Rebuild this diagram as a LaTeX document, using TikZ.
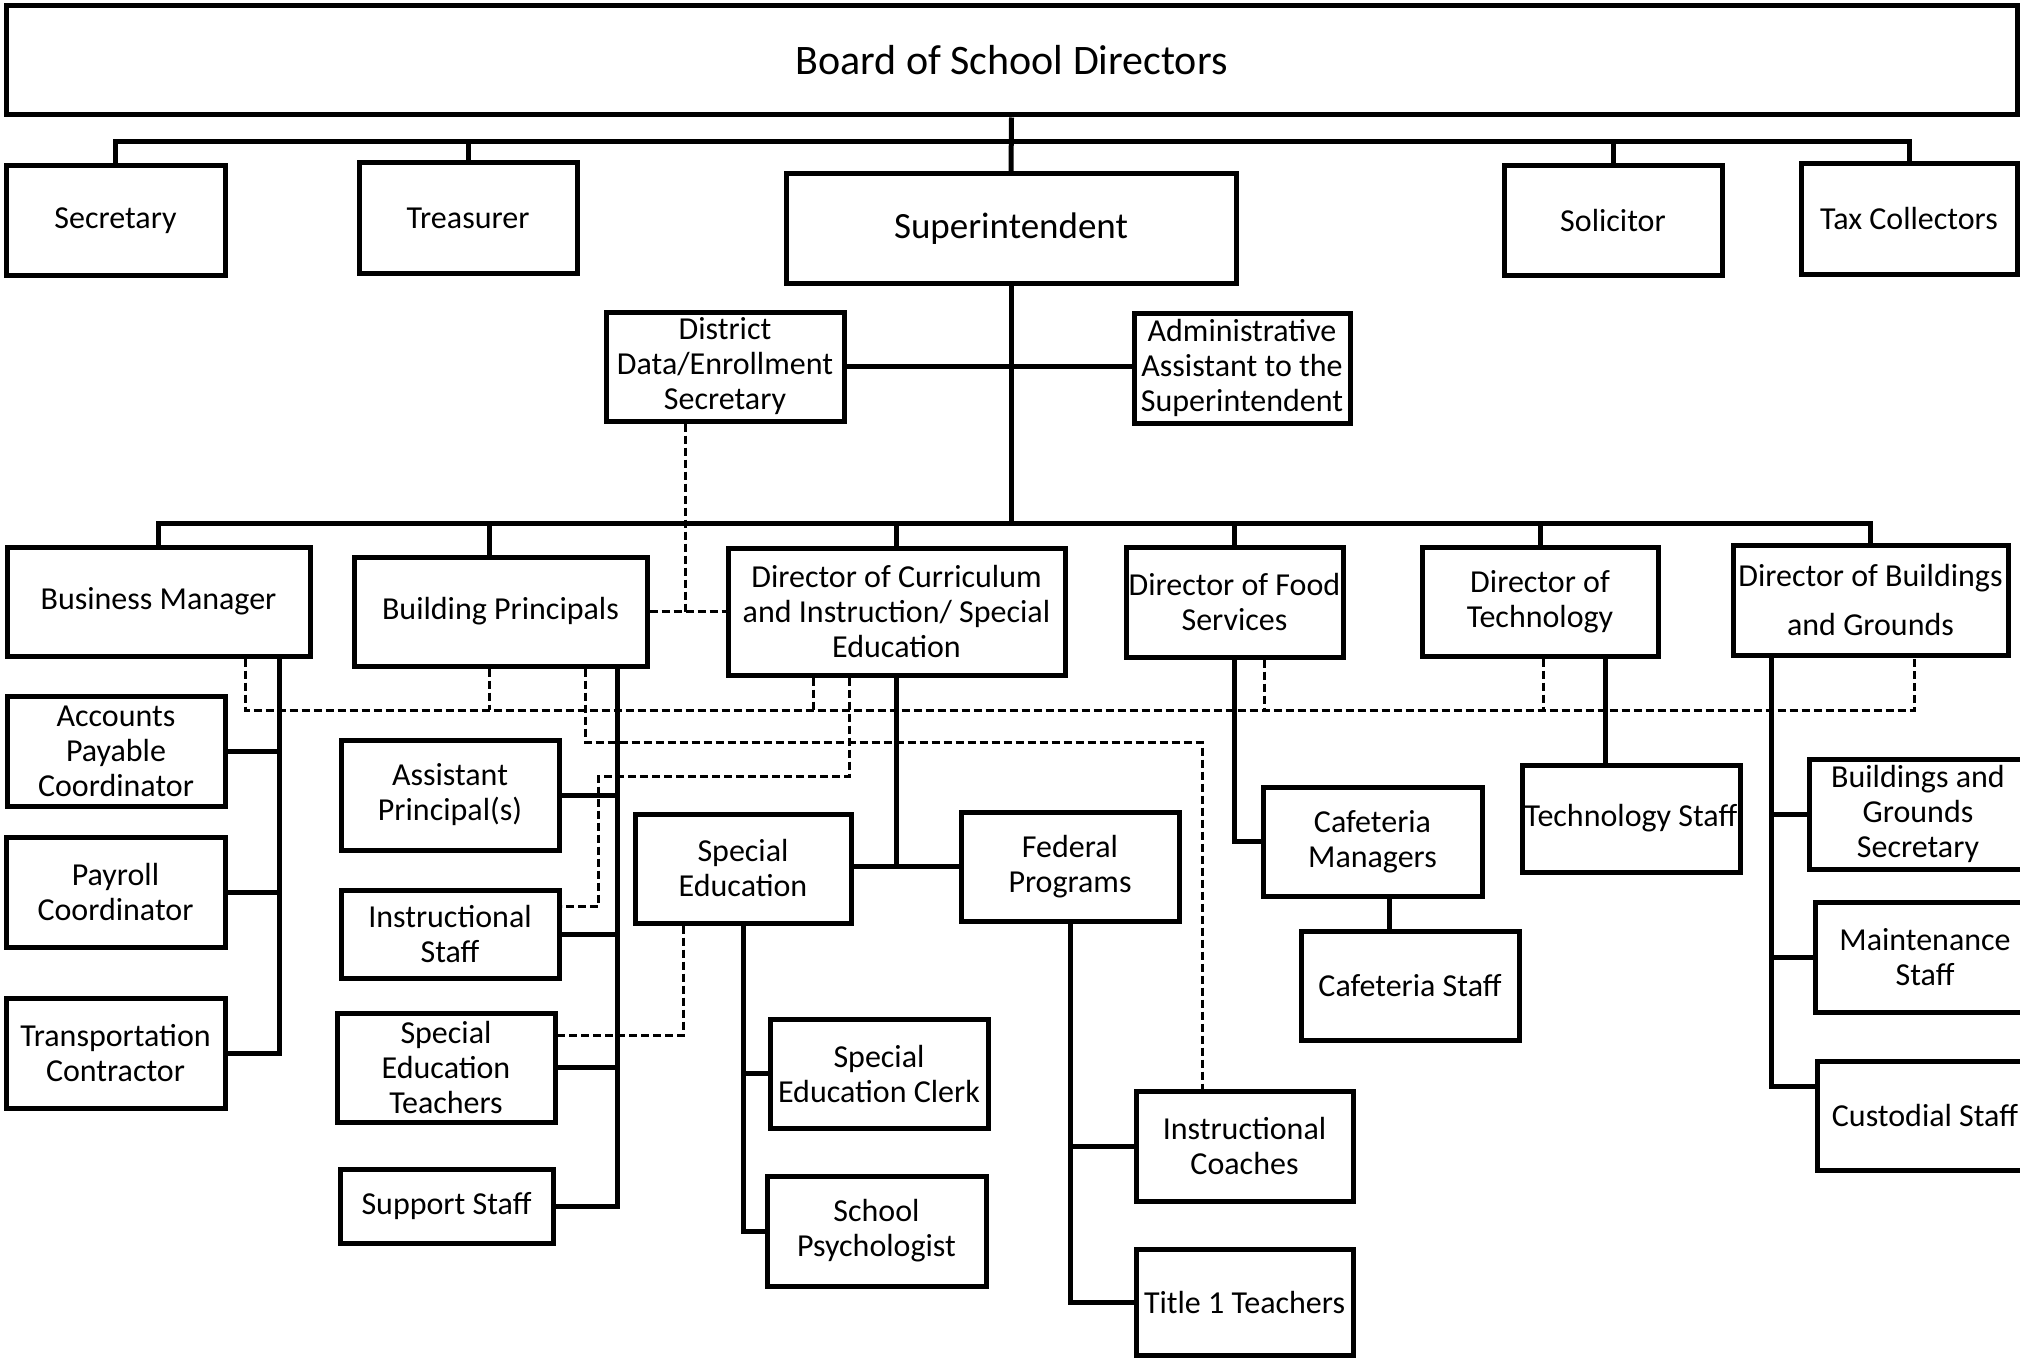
\documentclass[tikz,border=0pt]{standalone}
\usepackage{fontspec}
\setmainfont{Carlito}

\tikzset{
  box/.style={draw, line width=2.5pt, inner sep=0pt, align=center,
    font=\fontsize{16}{17.5}\selectfont},
  wh/.style n args={2}{minimum width=#1pt, minimum height=#2pt},
  conn/.style={line width=2.5pt},
  dashconn/.style={line width=1.5pt, dash pattern=on 4pt off 2pt},
}

\begin{document}
\begin{tikzpicture}[x=0.5pt,y=-0.5pt]
\clip (0,0) rectangle (2020,1359);
\fill[white] (0,0) rectangle (2020,1359);

% board and officers
\node[box, wh={1005.5}{54.5}, font=\fontsize{21}{24}\selectfont] (board) at (1011.5,60.5) {Board of School Directors};
\node[box, wh={109.5}{54.5}] (sec) at (115.5,220.5) {Secretary};
\node[box, wh={109}{55}] (treas) at (468,218) {Treasurer};
\node[box, wh={225}{54.5}, font=\fontsize{18.5}{21}\selectfont] (supt) at (1011,228.5) {Superintendent};
\node[box, wh={109}{54.5}] (solic) at (1613,220.5) {Solicitor};
\node[box, wh={108}{55}] (taxc) at (1909,219) {Tax Collectors};
\node[box, wh={119}{54.5}] (datasec) at (725,366.5) {District\\Data/Enrollment\\Secretary};
\node[box, wh={108}{55}] (adminasst) at (1242,368) {Administrative\\Assistant to the\\Superintendent};

% directors
\node[box, wh={151.5}{54.5}] (busmgr) at (158.5,601.5) {Business Manager};
\node[box, wh={146.5}{54.5}] (bldgprin) at (500.5,611.5) {Building Principals};
\node[box, wh={168.5}{63.5}] (dircurr) at (896.5,611.5) {Director of Curriculum\\and Instruction/ Special\\Education};
\node[box, wh={108.5}{55}] (dirfood) at (1234.5,602) {Director of Food\\Services};
\node[box, wh={118}{54.5}] (dirtech) at (1540,601.5) {Director of\\Technology};
\node[box, wh={137.5}{55}, font=\fontsize{16}{24.5}\selectfont] (dirbldg) at (1870.5,600) {Director of Buildings\\and Grounds};

% staff
\node[box, wh={109}{55}] (acctpay) at (116,751) {Accounts\\Payable\\Coordinator};
\node[box, wh={109.5}{55}] (payroll) at (115.5,892) {Payroll\\Coordinator};
\node[box, wh={109.5}{55}] (transp) at (115.5,1053) {Transportation\\Contractor};
\node[box, wh={109}{55}] (asstprin) at (450,795) {Assistant\\Principal(s)};
\node[box, wh={109}{44}] (instrstaff) at (450,934) {Instructional\\Staff};
\node[box, wh={109}{54.5}] (spedteach) at (446,1067.5) {Special\\Education\\Teachers};
\node[box, wh={106.5}{37}] (support) at (446.5,1206) {Support Staff};
\node[box, wh={108}{54.5}] (spedu) at (743,868.5) {Special\\Education};
\node[box, wh={109}{54.5}] (fedprog) at (1070,866.5) {Federal\\Programs};
\node[box, wh={109}{54.5}] (spedclerk) at (879,1073.5) {Special\\Education Clerk};
\node[box, wh={109.5}{55}] (psych) at (876.5,1231) {School\\Psychologist};
\node[box, wh={108.5}{55}] (coaches) at (1244.5,1146) {Instructional\\Coaches};
\node[box, wh={108.5}{53}] (title) at (1244.5,1302) {Title 1 Teachers};
\node[box, wh={109.5}{54.5}] (cafemgr) at (1372.5,841.5) {Cafeteria\\Managers};
\node[box, wh={109}{54.5}] (cafestaff) at (1410,985.5) {Cafeteria Staff};
\node[box, wh={109}{53.5}] (techstaff) at (1631,818.5) {Technology Staff};
\node[box, wh={109}{55}] (bgsec) at (1918,814) {Buildings and\\Grounds\\Secretary};
\node[box, wh={110}{55}] (maint) at (1925,957) {Maintenance\\Staff};
\node[box, wh={108}{54.5}] (custod) at (1925,1115.5) {Custodial Staff};

% bus heights and attach points
\coordinate (topbus) at (0,142);
\coordinate (midbus) at (0,523);
\coordinate (dashbus) at (0,710);
\coordinate (cobus) at (0,742);
\coordinate (isbus) at (598,776);
\coordinate (bpt) at ([xshift=-5.75pt]bldgprin.north);
\coordinate (bmb) at ([xshift=60.25pt]busmgr.south);
\coordinate (bpb) at ([xshift=58.25pt]bldgprin.south);
\coordinate (cmb) at ([xshift=8.25pt]cafemgr.south);
\coordinate (dtb) at ([xshift=32.5pt]dirtech.south);
\coordinate (dbb) at ([xshift=-49.75pt]dirbldg.south);
\coordinate (cuw) at ([yshift=14.75pt]custod.west);

% dashed links
\coordinate (dsb) at ([xshift=-20pt]datasec.south);
\draw[dashconn] (dsb) -- (dsb |- bldgprin.east);
\draw[dashconn] (bldgprin.east) -- (dircurr.west);
\coordinate (bmd) at ([xshift=43.25pt]busmgr.south);
\coordinate (dbd) at ([xshift=21.75pt]dirbldg.south);
\draw[dashconn] (bmd) -- (bmd |- dashbus) -- (dbd |- dashbus) -- (dbd);
\foreach \n/\s in {bldgprin/-5.75, dircurr/-41.75, dirfood/14.75, dirtech/1.5} {
  \coordinate (tmp) at ([xshift=\s pt]\n.south);
  \draw[dashconn] (tmp) -- (tmp |- dashbus);
}
\coordinate (bpc) at ([xshift=42.25pt]bldgprin.south);
\coordinate (coc) at ([xshift=-21.25pt]coaches.north);
\draw[dashconn] (bpc) -- (bpc |- cobus) -- (coc |- cobus) -- (coc);
\coordinate (dcd) at ([xshift=-23.75pt]dircurr.south);
\coordinate (isd) at ([yshift=14pt]instrstaff.east);
\draw[dashconn] (dcd) -- (dcd |- isbus) -- (isbus) -- (isbus |- isd) -- (isd);
\coordinate (sed) at ([xshift=-30pt]spedu.south);
\coordinate (stt) at ([yshift=16.25pt]spedteach.east);
\draw[dashconn] (sed) -- (sed |- stt) -- (stt);

% solid links
\draw[conn] (board.south) -- (supt.north);
\draw[conn] (sec.north) -- (sec.north |- topbus) -- (taxc.north |- topbus) -- (taxc.north);
\foreach \n in {treas,solic}
  \draw[conn] (\n.north) -- (\n.north |- topbus);
\draw[conn] (datasec.east) -- (datasec.east -| adminasst.west);
\draw[conn] (supt.south) -- (supt.south |- midbus);
\draw[conn] (busmgr.north) -- (busmgr.north |- midbus) -- (dirbldg.north |- midbus) -- (dirbldg.north);
\draw[conn] (bpt) -- (bpt |- midbus);
\foreach \n in {dircurr,dirfood,dirtech}
  \draw[conn] (\n.north) -- (\n.north |- midbus);

\draw[conn] (bmb) -- (bmb |- transp.east) -- (transp.east);
\foreach \n in {acctpay,payroll}
  \draw[conn] (\n.east) -- (\n.east -| bmb);

\draw[conn] (bpb) -- (bpb |- support.east) -- (support.east);
\foreach \n in {asstprin,instrstaff,spedteach}
  \draw[conn] (\n.east) -- (\n.east -| bpb);

\draw[conn] (dircurr.south) -- (dircurr.south |- fedprog.west);
\draw[conn] (spedu.east |- fedprog.west) -- (fedprog.west);
\draw[conn] (spedu.south) -- (spedu.south |- psych.west) -- (psych.west);
\draw[conn] (spedclerk.west) -- (spedclerk.west -| spedu.south);
\draw[conn] (fedprog.south) -- (fedprog.south |- title.west) -- (title.west);
\draw[conn] (coaches.west) -- (coaches.west -| fedprog.south);

\draw[conn] (dirfood.south) -- (dirfood.south |- cafemgr.west) -- (cafemgr.west);
\draw[conn] (cmb) -- (cmb |- cafestaff.north);
\draw[conn] (dtb) -- (dtb |- techstaff.north);

\draw[conn] (dbb) -- (dbb |- cuw) -- (cuw);
\foreach \n in {bgsec,maint}
  \draw[conn] (\n.west) -- (\n.west -| dbb);
\end{tikzpicture}
\end{document}
